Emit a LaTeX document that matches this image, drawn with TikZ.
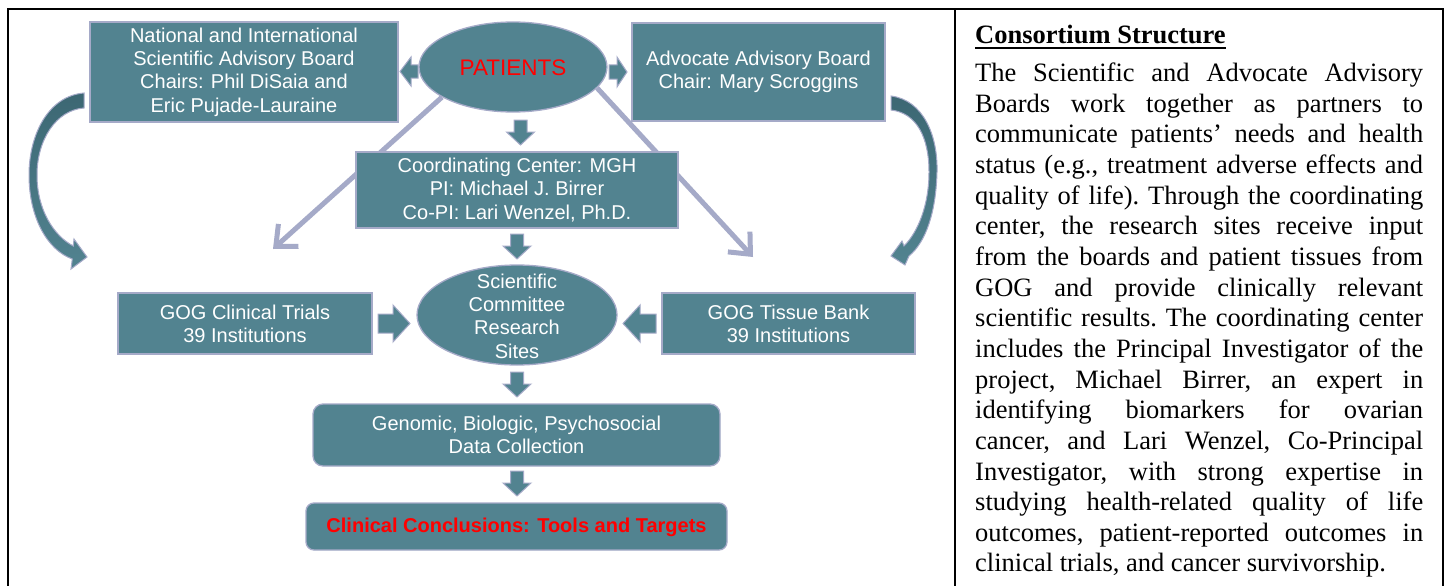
\documentclass[tikz,border=0pt]{standalone}
\usepackage{fontspec}
\setmainfont{Liberation Serif}
\newfontfamily\arialf{Liberation Sans}
\usetikzlibrary{arrows.meta,calc,shapes.geometric,backgrounds}
\definecolor{boxteal}{HTML}{528390}
\definecolor{lav}{HTML}{A5AAC8}
\definecolor{darkteal}{HTML}{3C6773}
\definecolor{pred}{HTML}{FF0000}
\newcommand{\diagfont}{\arialf\fontsize{20}{23.3}\selectfont}
\newcommand{\bodyfont}{\fontsize{26.5}{30.6}\selectfont\frenchspacing}
\begin{document}
\begin{tikzpicture}[x=1pt,y=-1pt,
  box/.style={draw=lav,line width=1.3pt,fill=boxteal,text=white,font=\diagfont,align=center,inner sep=0pt},
  oval/.style={ellipse,draw=lav,line width=1.3pt,fill=boxteal,inner sep=0pt},
  link/.style={draw=lav,line width=5pt,-{Straight Barb[length=17pt,width=30pt]}},
  bararrow/.style={fill=boxteal,draw=lav,line width=1pt,line join=miter},
  curvearrow/.style={draw=lav,line width=1pt,top color=darkteal,bottom color=boxteal},
  pics/barrow/.style n args={4}{code={\path[bararrow] (0,-#3/2) -- (#1-#4,-#3/2) -- (#1-#4,-#2/2) -- (#1,0) -- (#1-#4,#2/2) -- (#1-#4,#3/2) -- (0,#3/2) -- cycle;}},
]
\useasboundingbox (0,0) rectangle (1448,586);

% table frame
\draw[line width=2pt,black] (8,586) -- (8,9) -- (1443,9) -- (1443,586);
\draw[line width=2pt,black] (955,9) -- (955,586);

% nodes
\node[box,minimum width=308pt,minimum height=100pt] (nat) at (244,72) {National and International\\Scientific Advisory Board\\Chairs: Phil DiSaia and\\Eric Pujade-Lauraine};
\node[oval,minimum width=188pt,minimum height=90pt] (pat) at (513,67) {};
\node[font=\arialf\fontsize{22.5}{26}\selectfont,text=pred,inner sep=0pt] (patlbl) at (513,68) {PATIENTS};
\node[box,minimum width=253pt,minimum height=98pt] (adv) at (758.5,72) {Advocate Advisory Board\\Chair: Mary Scroggins};
\node[box,minimum width=322pt,minimum height=76pt] (coord) at (517,190) {Coordinating Center: MGH\\PI: Michael J. Birrer\\Co-PI: Lari Wenzel, Ph.D.};
\node[oval,minimum width=200pt,minimum height=100pt] (sci) at (517,315) {};
\node[text=white,font=\diagfont,align=center,inner sep=0pt] (scilbl) at (517,316) {Scientific\\Committee\\Research\\Sites};
\node[box,minimum width=254pt,minimum height=61pt] (trials) at (245,323.5) {GOG Clinical Trials\\39 Institutions};
\node[box,minimum width=253pt,minimum height=61pt] (tissue) at (788.5,323.5) {GOG Tissue Bank\\39 Institutions};
\node[box,rounded corners=10pt,minimum width=407pt,minimum height=62pt] (data) at (516.5,435) {Genomic, Biologic, Psychosocial\\Data Collection};
\node[box,rounded corners=8pt,minimum width=421pt,minimum height=47pt,font=\arialf\bfseries\fontsize{20}{23.3}\selectfont,text=pred,text depth=2pt] (concl) at (516.5,526.5) {Clinical Conclusions: Tools and Targets};

% diagonal connectors (behind boxes)
\coordinate (tipL) at (273,249);
\coordinate (tipR) at (753,257);
\begin{scope}[on background layer]
\fill[white] (0,0) rectangle (1448,586);
\draw[link] (pat.-157) -- (tipL);
\draw[link] (pat.-14) -- (tipR);
\end{scope}

% block arrows
\pic[rotate=180] at (418,71.5) {barrow={18}{29}{13}{11}};
\pic at (609,72) {barrow={18}{30}{14}{10}};
\pic[rotate=-90] at (520.5,120) {barrow={25}{28}{13}{13}};
\pic[rotate=-90] at (517,234) {barrow={25}{28}{13}{13}};
\pic[rotate=-90] at (517,372) {barrow={25}{28}{13}{13}};
\pic[rotate=-90] at (517,471) {barrow={25}{28}{13}{13}};
\pic at (378,323.5) {barrow={32}{37}{19}{17}};
\pic[rotate=180] at (656,323.5) {barrow={33}{37}{19}{17}};

% curved arrows
\path[curvearrow] (84,93) .. controls (48,96) and (29,135) .. (29,175)
  .. controls (29,217) and (47,250) .. (72.3,259) -- (71,269) -- (87,257) -- (74,239) -- (73.3,246)
  .. controls (54,236) and (37,210) .. (37,175) .. controls (37,140) and (56,110) .. (84,108) -- cycle;
\path[curvearrow] (891,96) .. controls (923,100) and (938,135) .. (937,172)
  .. controls (936,212) and (926,242) .. (909,256) -- (905,265) -- (891,256) -- (902,241) -- (904,246)
  .. controls (918,232) and (929,205) .. (929,172) .. controls (929,138) and (917,113) .. (891,110) -- cycle;

% right text
\node[anchor=base west,inner sep=0pt,font=\bodyfont\bfseries] (head) at (975,43.3) {Consortium Structure};
\draw[line width=1.3pt] ($(head.base west)+(0,4.8)$) -- ($(head.base east)+(0,4.8)$);
\foreach \txt [count=\k from 0] in {
  {The Scientific and Advocate Advisory},
  {Boards work together as partners to},
  {communicate patients’ needs and health},
  {status (e.g., treatment adverse effects and},
  {quality of life). Through the coordinating},
  {center, the research sites receive input},
  {from the boards and patient tissues from},
  {GOG and provide clinically relevant},
  {scientific results. The coordinating center},
  {includes the Principal Investigator of the},
  {project, Michael Birrer, an expert in},
  {identifying biomarkers for ovarian},
  {cancer, and Lari Wenzel, Co-Principal},
  {Investigator, with strong expertise in},
  {studying health-related quality of life},
  {outcomes, patient-reported outcomes in}}
  {\node[anchor=base west,inner sep=0pt,font=\bodyfont] (line\k) at (975,81.7+30.64*\k) {\makebox[448pt][s]{\txt}};}
\node[anchor=base west,inner sep=0pt,font=\bodyfont] (lastline) at (975,81.7+30.64*16) {clinical trials, and cancer survivorship.};
\end{tikzpicture}
\end{document}
